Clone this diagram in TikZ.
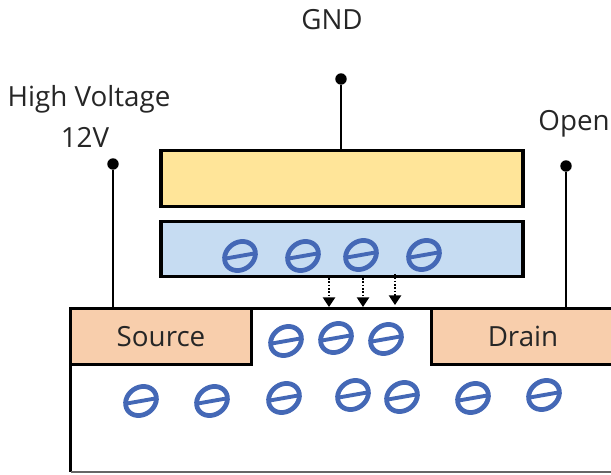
\documentclass[tikz,border=0pt]{standalone}
\usepackage{fontspec}
\setmainfont{Open Sans}
\usetikzlibrary{shapes.geometric,arrows.meta}
\definecolor{gatecol}{RGB}{255,229,153}
\definecolor{floatcol}{RGB}{198,220,242}
\definecolor{dopecol}{RGB}{248,206,172}
\definecolor{chargecol}{RGB}{68,104,182}
\tikzset{
  plate/.style={draw,line width=1.8pt,minimum height=31.5pt,inner sep=0pt,outer sep=0pt},
  electron/.style={ellipse,draw=chargecol,line width=2.7pt,minimum width=18.5pt,minimum height=15.5pt,
    inner sep=0pt,rotate=35,
    path picture={\draw[chargecol,line width=2.2pt]
      ([shift={(-205:14pt)}]path picture bounding box.center) -- ([shift={(-25:14pt)}]path picture bounding box.center);}},
  pin/.style={circle,fill=black,inner sep=0pt,minimum size=6.5pt},
  lbl/.style={font=\fontsize{15.8pt}{18pt}\selectfont,text=black!85}
}
\begin{document}
\begin{tikzpicture}[x=0.02cm,y=-0.02cm]
      \useasboundingbox (0,0) rectangle (611,475);

      % plates and wells
      \begin{scope}[every node/.style={plate}]
        \node[fill=gatecol,minimum width=206pt]  (gate)   at (342,178.5) {};
        \node[fill=floatcol,minimum width=206pt] (float)  at (342,249)   {};
        \node[fill=dopecol,minimum width=103pt,lbl]  (source) at (161,336.5) {Source};
        \node[fill=dopecol,minimum width=104pt,lbl]  (drain)  at (523,336.5) {Drain};
      \end{scope}

      % terminals
      \begin{scope}[every node/.style={pin}]
        \node (gnd)  at (341,79)  {};
        \node (high) at (113,164) {};
        \node (open) at (566,166) {};
      \end{scope}

      \begin{scope}[every node/.style={lbl}]
        \node (gndtext)  at (332,20)  {GND};
        \node (hightext) at (89,99)   {High Voltage};
        \node (volttext) at (85,137)  {12V};
        \node (opentext) at (574,124) {Open};
      \end{scope}

      \draw[line width=1.4pt] (gnd) -- (gnd |- gate.north);
      \draw[line width=1.4pt] (high) -- (high |- source.north);
      \draw[line width=1.4pt] (open) -- (open |- drain.north);

      % body
      \coordinate (corner) at (source.south west |- 0,472);
      \coordinate (endbody) at (611,472);
      \draw[line width=1.6pt] (source.north east) -- (drain.north west);
      \draw[line width=1.8pt] (source.south west) -- (corner);
      \draw[black!60,line width=.8pt] (corner) -- (endbody);

      % charges
      \begin{scope}[every node/.style={electron}]
        \node (f1) at (240,256) {};
        \node (f2) at (303,256) {};
        \node (f3) at (361,255) {};
        \node (f4) at (424,255) {};
        \node (c1) at (286,341) {};
        \node (c2) at (336,338) {};
        \node (c3) at (386,339) {};
        \node (b1) at (141,401) {};
        \node (b2) at (212,401) {};
        \node (b3) at (284,398) {};
        \node (b4) at (353,395) {};
        \node (b5) at (402,397) {};
        \node (b6) at (473,398) {};
        \node (b7) at (544,395) {};
      \end{scope}

      % tunnelling
      \coordinate (t1) at (329,278);
      \coordinate (t2) at (363,278);
      \coordinate (t3) at (395,274);
      \coordinate (s1) at (329,307);
      \coordinate (s2) at (363,307);
      \coordinate (s3) at (395,305);
      \foreach \i in {1,2,3}
        \draw[densely dotted,line width=.9pt,-{Triangle[length=5.5pt,width=7pt]}] (t\i) -- (s\i);

    \end{tikzpicture}
\end{document}
